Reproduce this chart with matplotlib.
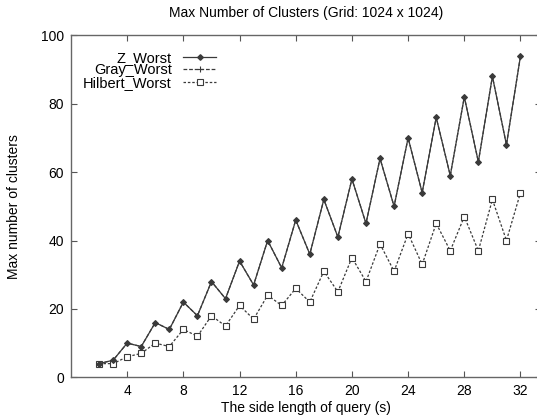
import matplotlib
matplotlib.use('Agg')
import matplotlib.pyplot as plt

plt.rcParams['font.family'] = ['Liberation Sans', 'DejaVu Sans']

# query side length
s = list(range(2, 33))

z_worst = [4, 5, 10, 9, 16, 14, 22, 18, 28, 23, 34, 27, 40, 32, 46, 36,
           52, 41, 58, 45, 64, 50, 70, 54, 76, 59, 82, 63, 88, 68, 94]
# gray curve lies under the Z curve in the picture
gray_worst = list(z_worst)
hilbert_worst = [4, 4, 6, 7, 10, 9, 14, 12, 18, 15, 21, 17, 24, 21, 26, 22,
                 31, 25, 35, 28, 39, 31, 42, 33, 45, 37, 47, 37, 52, 40, 54]

xticks = [4, 8, 12, 16, 20, 24, 28, 32]
yticks = [0, 20, 40, 60, 80, 100]

fig = plt.figure(figsize=(5.37, 4.17), dpi=100)
ax = fig.add_axes([0.1322, 0.0952, 0.875, 0.820])

lc = '#3a3a3a'
ax.plot(s, hilbert_worst, linestyle=(0, (2, 1.5)), color=lc, lw=0.9,
        marker='s', ms=4.5, mfc='white', mec=lc, mew=0.8, label='Hilbert_Worst')
ax.plot(s, gray_worst, linestyle=(0, (3, 1.5)), color=lc, lw=0.9,
        marker='+', ms=5, mec=lc, mew=0.8, label='Gray_Worst')
ax.plot(s, z_worst, linestyle='-', color=lc, lw=0.9,
        marker='D', ms=2.8, mfc=lc, mec=lc, label='Z_Worst')

ax.set_xlim(0, 33.45)
ax.set_ylim(0, 100)
ax.set_xticks(xticks)
ax.set_yticks(yticks)
ax.tick_params(direction='in', top=True, right=True, length=4, width=0.8,
               color='#555555', labelsize=10, pad=5)
for sp in ax.spines.values():
    sp.set_color('#666666')
    sp.set_linewidth(1.0)

ax.set_title('Max Number of Clusters (Grid: 1024 x 1024)', fontsize=10, pad=13)
ax.set_xlabel('The side length of query (s)', fontsize=10, labelpad=2)
ax.set_ylabel('Max number of clusters', fontsize=10, labelpad=14)

h, l = ax.get_legend_handles_labels()
ax.legend(h[::-1], l[::-1], loc='upper left', bbox_to_anchor=(0.004, 0.985),
          frameon=False, markerfirst=False, fontsize=10.5, handlelength=2.2,
          handletextpad=0.8, labelspacing=-0.1, borderaxespad=0.3)

fig.savefig('out.png', dpi=100)
